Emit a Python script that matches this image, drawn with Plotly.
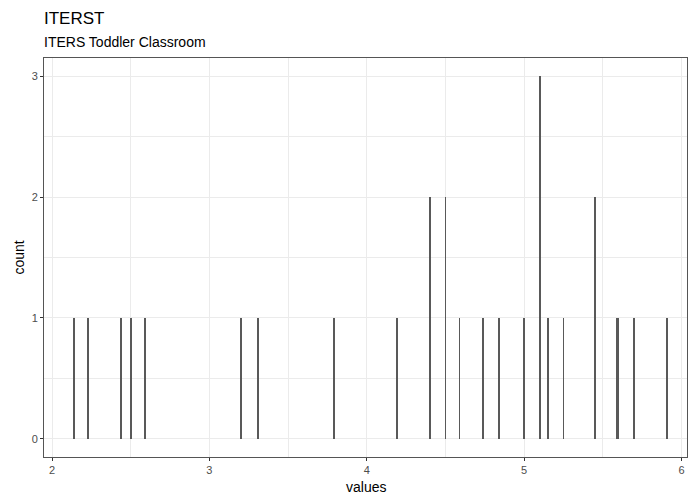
import plotly.graph_objects as go

# bin centers (values) and counts
bin_values = [2.14, 2.23, 2.44, 2.50, 2.59, 3.20, 3.31, 3.79,
              4.19, 4.40, 4.50, 4.59, 4.74, 4.84, 5.00, 5.10,
              5.15, 5.25, 5.45, 5.59, 5.60, 5.70, 5.91]
bin_counts = [1, 1, 1, 1, 1, 1, 1, 1,
              1, 2, 2, 1, 1, 1, 1, 3,
              1, 1, 2, 1, 1, 1, 1]
x_ticks = [2, 3, 4, 5, 6]
y_ticks = [0, 1, 2, 3]

title_text = "ITERST"
subtitle_text = "ITERS Toddler Classroom"
x_title = "values"
y_title = "count"

fig = go.Figure()
fig.add_trace(go.Bar(
    x=bin_values, y=bin_counts, width=0.0045,
    marker=dict(color="#595959", line=dict(width=0)),
    showlegend=False,
))

grid = "#EBEBEB"
fig.update_layout(
    width=688, height=500,
    margin=dict(l=44, r=1, t=58, b=43, autoexpand=False),
    paper_bgcolor="white", plot_bgcolor="white",
    font=dict(family="Liberation Sans, Arial, sans-serif", color="#000000"),
    bargap=0,
    xaxis=dict(
        range=[1.949, 6.035], tickvals=x_ticks, ticktext=[str(v) for v in x_ticks],
        showgrid=True, gridcolor=grid, gridwidth=1.1,
        minor=dict(dtick=0.5, tick0=1.5, showgrid=True, gridcolor=grid, gridwidth=0.5),
        zeroline=False, ticks="outside", ticklen=3, tickcolor="#333333",
        tickfont=dict(size=11, color="#4D4D4D"), automargin=False,
        showline=True, linecolor="#555555", linewidth=1, mirror=True,
    ),
    yaxis=dict(
        range=[-0.15, 3.15], tickvals=y_ticks, ticktext=[str(v) for v in y_ticks],
        showgrid=True, gridcolor=grid, gridwidth=1.1,
        minor=dict(dtick=0.5, tick0=0.5, showgrid=True, gridcolor=grid, gridwidth=0.5),
        zeroline=False, ticks="outside", ticklen=3, tickcolor="#333333",
        tickfont=dict(size=11, color="#4D4D4D"), automargin=False,
        showline=True, linecolor="#555555", linewidth=1, mirror=True,
    ),
    annotations=[
        dict(text=title_text, x=0, xref="paper", y=1, yref="paper",
             xanchor="left", yanchor="middle", xshift=-2, yshift=58 - 18,
             showarrow=False, font=dict(size=17)),
        dict(text=subtitle_text, x=0, xref="paper", y=1, yref="paper",
             xanchor="left", yanchor="middle", xshift=-2, yshift=58 - 42,
             showarrow=False, font=dict(size=14)),
        dict(text=x_title, x=0.5, xref="paper", y=0, yref="paper",
             xanchor="center", yanchor="middle", yshift=-30,
             showarrow=False, font=dict(size=14)),
        dict(text=y_title, x=0, xref="paper", y=0.5, yref="paper",
             xanchor="center", yanchor="middle", xshift=-26, textangle=-90,
             showarrow=False, font=dict(size=14)),
    ],
)

fig.write_html("out.html", config={"displayModeBar": False},
               post_script="document.body.style.margin='0';")
